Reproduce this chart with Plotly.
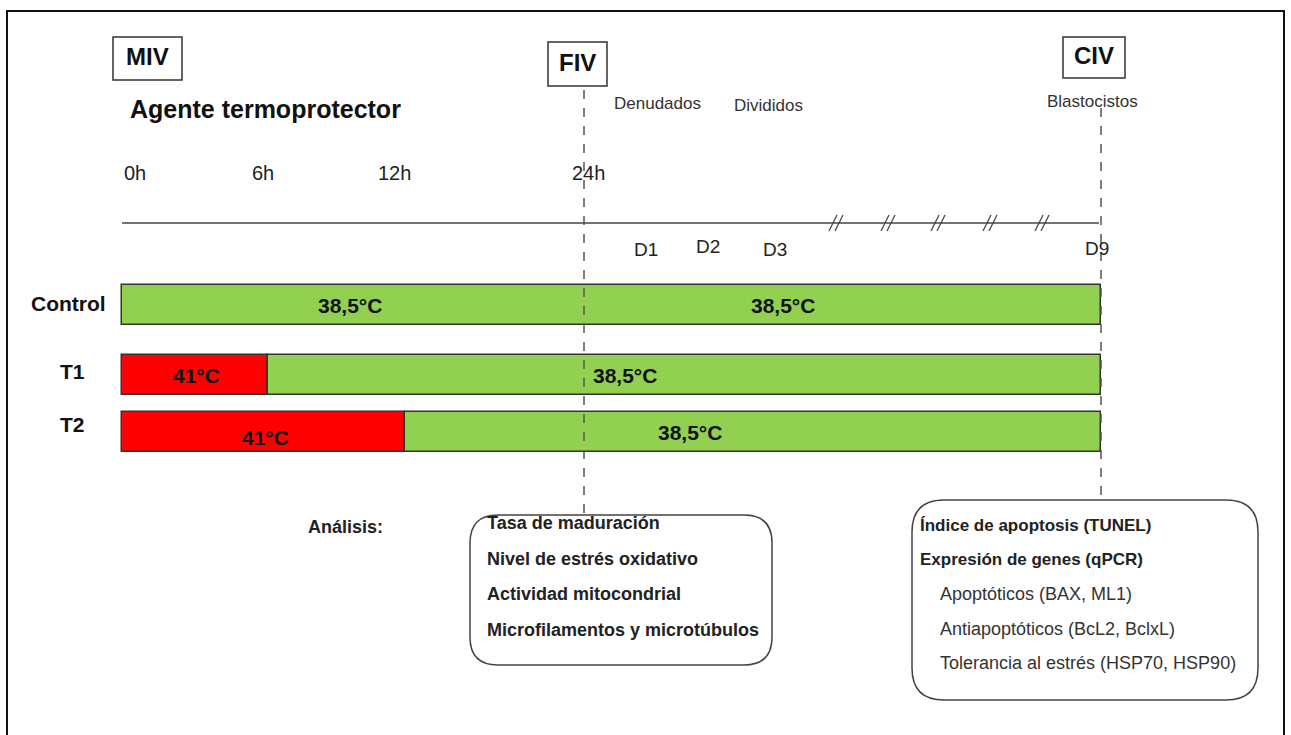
import plotly.graph_objects as go

# ---------------- data ----------------
groups = ["Control", "T1", "T2"]
heat_hours = [0, 6, 12]          # hours at 41°C for each group
hour_labels = ["0h", "6h", "12h", "24h"]
day_labels = ["D1", "D2", "D3", "D9"]
stage_labels = ["MIV", "FIV", "CIV"]
hot_temp = "41°C"
base_temp = "38,5°C"
analysis_fiv = ["Tasa de maduración", "Nivel de estrés oxidativo",
                "Actividad mitocondrial", "Microfilamentos y microtúbulos"]
analysis_civ = ["Índice de apoptosis (TUNEL)", "Expresión de genes (qPCR)",
                "Apoptóticos (BAX, ML1)", "Antiapoptóticos (BcL2, BclxL)",
                "Tolerancia al estrés (HSP70, HSP90)"]
civ_bold = [True, True, False, False, False]

# ---------------- layout geometry (diagram coordinates) ----------------
W, H = 1291, 735
FONT = "Liberation Sans, Arial, sans-serif"
hour_x = {0: 122, 6: 268, 12: 405, 24: 584}
end_x = 1101
bar_y = {"Control": 305, "T1": 375, "T2": 432}
bar_h = 40
GREEN = "#92D050"
RED = "#FF0000"

fig = go.Figure()

# bars
for g, hh in zip(groups, heat_hours):
    start = hour_x[0]
    split = hour_x[hh]
    if split > start:
        fig.add_trace(go.Bar(orientation="h", y=[bar_y[g]], base=[start], x=[split - start],
                             width=bar_h, marker=dict(color=RED, line=dict(color="#333333", width=1.5)),
                             showlegend=False, hoverinfo="skip"))
    fig.add_trace(go.Bar(orientation="h", y=[bar_y[g]], base=[split], x=[end_x - split],
                         width=bar_h, marker=dict(color=GREEN, line=dict(color="#333333", width=1.5)),
                         showlegend=False, hoverinfo="skip"))

ann = []
def txt(x, y, s, size=16, bold=False, color="#222222", xanchor="left"):
    ann.append(dict(x=x, y=y, xref="x", yref="y", text=f"<b>{s}</b>" if bold else s,
                    showarrow=False, xanchor=xanchor, yanchor="middle",
                    font=dict(family=FONT, size=size, color=color)))

# group labels
txt(108, bar_y["Control"] - 2, "Control", 21, True, "#111111", "right")
txt(72, bar_y["T1"] - 4, "T1", 21, True, "#111111", "center")
txt(72, bar_y["T2"] - 8, "T2", 21, True, "#111111", "center")

# temperature labels
txt(350, bar_y["Control"], base_temp, 21, True, "#111111", "center")
txt(783, bar_y["Control"], base_temp, 21, True, "#111111", "center")
txt(196, bar_y["T1"], hot_temp, 21, True, "#111111", "center")
txt(625, bar_y["T1"], base_temp, 21, True, "#111111", "center")
txt(265, bar_y["T2"] + 5, hot_temp, 21, True, "#111111", "center")
txt(690, bar_y["T2"], base_temp, 21, True, "#111111", "center")

# hour labels
for lab, hx in zip(hour_labels, [122, 250, 376, 570]):
    txt(hx, 173, lab, 20, False, "#222222")

# day labels
for lab, dx, dy in zip(day_labels, [632, 694, 761, 1083], [249, 246, 249, 248]):
    txt(dx, dy, lab, 19, False, "#222222")

txt(128, 109, "Agente termoprotector", 25, True, "#111111")
txt(612, 103, "Denudados", 17, False, "#333333")
txt(732, 105, "Divididos", 17, False, "#333333")
txt(1092, 101, "Blastocistos", 17, False, "#333333", "center")
txt(306, 527, "Análisis:", 18, True, "#222222")

shapes = []
# outer border
shapes.append(dict(type="rect", x0=7, y0=11, x1=1284, y1=745, line=dict(color="#111111", width=2)))

# stage boxes
for lab, (x0, y0, x1, y1) in zip(stage_labels, [(113, 37, 182, 80), (548, 42, 607, 86), (1063, 37, 1125, 78)]):
    shapes.append(dict(type="rect", x0=x0, y0=y0, x1=x1, y1=y1, line=dict(color="#333333", width=1.5)))
    txt((x0 + x1) / 2, (y0 + y1) / 2 - 2, lab, 24, True, "#111111", "center")

# timeline
shapes.append(dict(type="line", x0=122, y0=223, x1=1099, y1=223, line=dict(color="#444444", width=1.5)))
for sx in [836, 888, 938, 990, 1042]:
    for d in [-3, 3]:
        shapes.append(dict(type="line", x0=sx + d - 4, y0=231, x1=sx + d + 4, y1=215,
                           line=dict(color="#444444", width=1.3)))

# dashed verticals
shapes.append(dict(type="line", x0=584, y0=90, x1=584, y1=515, line=dict(color="#555555", width=1.5, dash="dash")))
shapes.append(dict(type="line", x0=1101, y0=108, x1=1101, y1=500, line=dict(color="#555555", width=1.5, dash="dash")))

def rrect(x0, y0, x1, y1, r):
    return (f"M {x0+r},{y0} L {x1-r},{y0} Q {x1},{y0} {x1},{y0+r} L {x1},{y1-r} "
            f"Q {x1},{y1} {x1-r},{y1} L {x0+r},{y1} Q {x0},{y1} {x0},{y1-r} "
            f"L {x0},{y0+r} Q {x0},{y0} {x0+r},{y0} Z")

shapes.append(dict(type="path", path=rrect(470, 515, 772, 665, 28), line=dict(color="#444444", width=1.5)))
shapes.append(dict(type="path", path=rrect(912, 500, 1258, 700, 32), line=dict(color="#444444", width=1.5)))

for i, s in enumerate(analysis_fiv):
    txt(485, 523 + i * 35.5, s, 18, True, "#222222")
for i, (s, b) in enumerate(zip(analysis_civ, civ_bold)):
    txt(918 if b else 938, 525 + i * 34.5, s, 17 if b else 18, b, "#222222" if b else "#333333")

fig.update_layout(
    width=W, height=H, margin=dict(l=0, r=0, t=0, b=0),
    plot_bgcolor="white", paper_bgcolor="white", barmode="overlay",
    xaxis=dict(range=[0, W], visible=False, fixedrange=True),
    yaxis=dict(range=[H, 0], visible=False, fixedrange=True),
    shapes=shapes, annotations=ann, bargap=0,
)
fig.write_html("out.html", config={"displayModeBar": False},
               post_script="document.body.style.margin='0';document.body.style.overflow='hidden';")
